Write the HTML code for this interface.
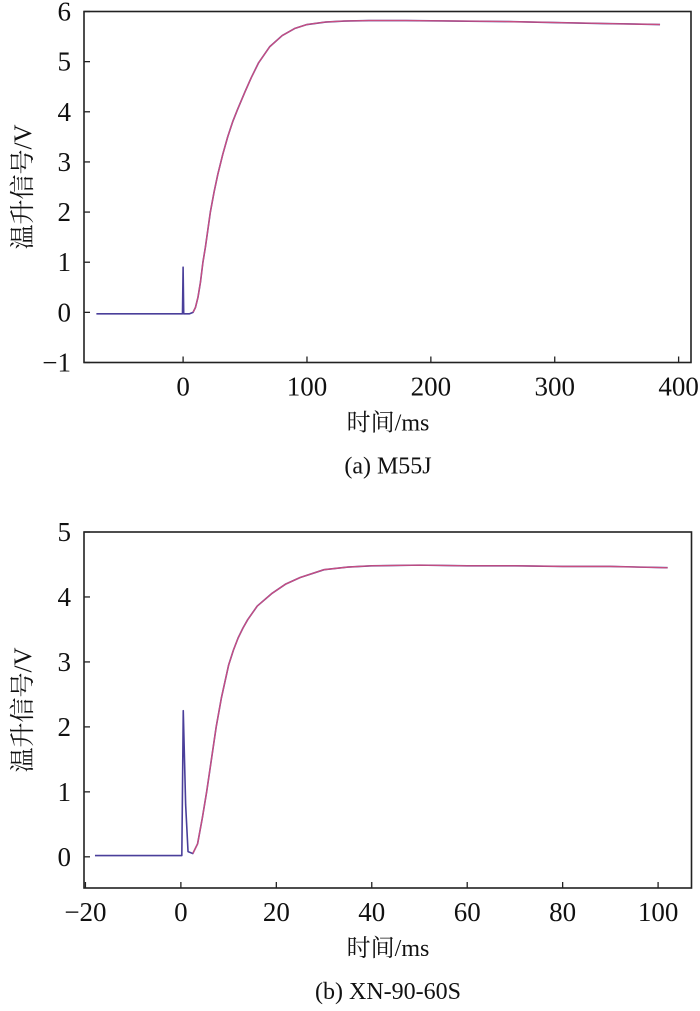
<!DOCTYPE html>
<html><head><meta charset="utf-8"><style>
body{margin:0;background:#fff;}
</style></head><body>
<svg id="fig" width="700" height="1006" xmlns="http://www.w3.org/2000/svg" font-family="'Liberation Serif','Noto Serif CJK SC',serif"></svg>
<script>
// Chart (a) M55J
const aTimes=[-70,-50,-30,-10,-0.5,0,0.5,5,8,10,12,14,16,18,20,22,25,28,32,36,40,44,50,55,61,70,80,90,100,115,130,150,180,220,260,300,340,385];
const aSignal=[-0.03,-0.03,-0.03,-0.03,-0.03,0.9,-0.03,-0.03,0,0.1,0.3,0.6,1.0,1.3,1.65,2.0,2.4,2.75,3.15,3.5,3.8,4.05,4.4,4.68,4.98,5.3,5.52,5.66,5.74,5.79,5.81,5.82,5.82,5.81,5.8,5.78,5.76,5.74];
const aFitTimes=[8,10,12,14,16,18,20,22,25,28,32,36,40,44,50,55,61,70,80,90,100,115,130,150,180,220,260,300,340,385];
const aFit=[0,0.1,0.3,0.6,1.0,1.3,1.65,2.0,2.4,2.75,3.15,3.5,3.8,4.05,4.4,4.68,4.98,5.3,5.52,5.66,5.74,5.79,5.81,5.82,5.82,5.81,5.8,5.78,5.76,5.74];
const aXTicks=[0,100,200,300,400];
const aYTicks=[-1,0,1,2,3,4,5,6];
// Chart (b) XN-90-60S
const bTimes=[-18,-12,-6,-1,0.2,0.5,1.0,1.5,2.5,3.5,4.5,5.4,6.4,7.4,8.5,10,11,12,13,14,16,19,22,25,30,35,40,50,60,70,80,90,102];
const bSignal=[0.02,0.02,0.02,0.02,0.02,2.25,0.8,0.08,0.05,0.2,0.6,1.0,1.5,2.0,2.45,2.95,3.18,3.37,3.52,3.65,3.86,4.05,4.2,4.3,4.42,4.46,4.48,4.49,4.48,4.48,4.47,4.47,4.45];
const bFitTimes=[2.5,3.5,4.5,5.4,6.4,7.4,8.5,10,11,12,13,14,16,19,22,25,30,35,40,50,60,70,80,90,102];
const bFit=[0.05,0.2,0.6,1.0,1.5,2.0,2.45,2.95,3.18,3.37,3.52,3.65,3.86,4.05,4.2,4.3,4.42,4.46,4.48,4.49,4.48,4.48,4.47,4.47,4.45];
const bXTicks=[-20,0,20,40,60,80,100];
const bYTicks=[0,1,2,3,4,5];

const NS='http://www.w3.org/2000/svg';
const svg=document.getElementById('fig');
function mk(tag,attrs,parent){const e=document.createElementNS(NS,tag);for(const k in attrs)e.setAttribute(k,attrs[k]);(parent||svg).appendChild(e);return e;}

function chart(cfg){
  const g=mk('g',{});
  
  
  const sx=v=>cfg.L+(v-cfg.x0)/(cfg.x1-cfg.x0)*(cfg.R-cfg.L);
  const sy=v=>cfg.B-(v-cfg.y0)/(cfg.y1-cfg.y0)*(cfg.B-cfg.T);
  const box=mk('rect',{x:cfg.L,y:cfg.T,width:cfg.R-cfg.L,height:cfg.B-cfg.T,fill:'none',stroke:'#222','stroke-width':1.6},g);
  
  
  cfg.xt.forEach(v=>{
    const t=mk('line',{x1:sx(v),x2:sx(v),y1:cfg.B,y2:cfg.B-6,stroke:'#222','stroke-width':1.3},g);
    
    
    const l=mk('text',{x:sx(v),y:cfg.B+33,'text-anchor':'middle','font-size':27,fill:'#111'},g);
    
    
    l.textContent=v<0?'\u2212'+(-v):v;
  });
  cfg.yt.forEach(v=>{
    const t=mk('line',{x1:cfg.L,x2:cfg.L+6,y1:sy(v),y2:sy(v),stroke:'#222','stroke-width':1.3},g);
    
    
    const l=mk('text',{x:cfg.L-13,y:sy(v)+9,'text-anchor':'end','font-size':27,fill:'#111'},g);
    
    
    l.textContent=v<0?'\u2212'+(-v):v;
  });
  const m=mk('polyline',{points:cfg.xs.map((x,i)=>sx(x)+','+sy(cfg.ys[i])).join(' '),fill:'none',stroke:'#4a3f9a','stroke-width':1.6,'stroke-linejoin':'round'},g);
  
  
  const f=mk('polyline',{points:cfg.fx.map((x,i)=>sx(x)+','+sy(cfg.fy[i])).join(' '),fill:'none',stroke:'#e0507a','stroke-width':1.3,'stroke-linejoin':'round','stroke-opacity':0.85},g);
  
  
  const yl=mk('text',{x:0,y:0,'text-anchor':'middle','font-size':25,fill:'#111',transform:`translate(31,${(cfg.T+cfg.B)/2}) rotate(-90)`},g);
  
  
  yl.textContent='温升信号/V';
  const xl=mk('text',{x:388,y:cfg.B+68,'text-anchor':'middle','font-size':24,fill:'#111'},g);
  
  
  xl.textContent='时间/ms';
  const c=mk('text',{x:388,y:cfg.B+111,'text-anchor':'middle','font-size':24,fill:'#111'},g);
  
  
  c.textContent=cfg.caption;
}
chart({name:'chart-a-m55j',L:84,R:691,T:11.5,B:362.5,x0:-80,x1:410,y0:-1,y1:6,xt:aXTicks,yt:aYTicks,xs:aTimes,ys:aSignal,fx:aFitTimes,fy:aFit,caption:'(a) M55J'});
chart({name:'chart-b-xn-90-60s',L:84,R:691.5,T:532,B:888,x0:-20.3,x1:107,y0:-0.48,y1:5,xt:bXTicks,yt:bYTicks,xs:bTimes,ys:bSignal,fx:bFitTimes,fy:bFit,caption:'(b) XN-90-60S'});
</script>
</body></html>
